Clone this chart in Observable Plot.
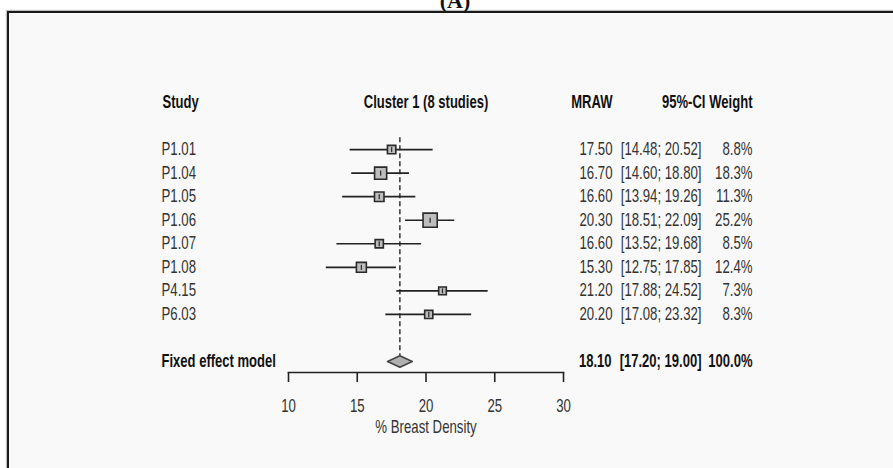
<!DOCTYPE html>
<html>
<head>
<meta charset="utf-8">
<script src="https://cdn.jsdelivr.net/npm/d3@7"></script>
<script src="https://cdn.jsdelivr.net/npm/@observablehq/plot@0.6"></script>
<style>
  html, body { margin: 0; padding: 0; background: #fff; }
  body { width: 893px; height: 468px; overflow: hidden; position: relative; }
  #title { position: absolute; left: 0; top: -12px; width: 910px; text-align: center;
           font: bold 22px "Liberation Serif", serif; color: #111; }
  #panel { position: absolute; left: 7px; top: 11px; width: 920px; height: 480px;
           border-left: 2px solid #1a1a1a; border-top: 2px solid #1a1a1a; background: #f9f9f9;
           box-shadow: -1px -1px 1px rgba(0,0,0,0.25); }
  #chart { position: absolute; left: 0; top: 0; }
</style>
</head>
<body>
<div id="title">(A)</div>
<div id="panel"></div>
<div id="chart"></div>
<script>
// ---- data ----
const studies  = ["P1.01", "P1.04", "P1.05", "P1.06", "P1.07", "P1.08", "P4.15", "P6.03"];
const mraw     = [17.50, 16.70, 16.60, 20.30, 16.60, 15.30, 21.20, 20.20];
const ciLow    = [14.48, 14.60, 13.94, 18.51, 13.52, 12.75, 17.88, 17.08];
const ciHigh   = [20.52, 18.80, 19.26, 22.09, 19.68, 17.85, 24.52, 23.32];
const weights  = [8.8, 18.3, 11.3, 25.2, 8.5, 12.4, 7.3, 8.3];
const fixedLabel = "Fixed effect model";
const fixedEst = 18.10, fixedLow = 17.20, fixedHigh = 19.00, fixedWeight = 100.0;
const xTicks = [10, 15, 20, 25, 30];
const xLabel = "% Breast Density";
const headers = { study: "Study", cluster: "Cluster 1 (8 studies)", est: "MRAW", ci: "95%-CI", weight: "Weight" };

// ---- rows (row index: header 0, studies 2..9, pooled 11) ----
const rows = studies.map((s, i) => ({
  study: s, est: mraw[i], lo: ciLow[i], hi: ciHigh[i], w: weights[i], row: i + 2
}));
const fixedRow = 11;
const fmt2 = d3.format(".2f"), fmt1 = d3.format(".1f");
const ciText = (lo, hi) => `[${fmt2(lo)}; ${fmt2(hi)}]`;

const dHalf = 0.24; // diamond half-height in rows
const diamond = [
  { x: fixedLow, y: fixedRow }, { x: fixedEst, y: fixedRow - dHalf },
  { x: fixedHigh, y: fixedRow }, { x: fixedEst, y: fixedRow + dHalf }, { x: fixedLow, y: fixedRow }
];

const vtick = { draw(ctx) { ctx.moveTo(0, -2.5); ctx.lineTo(0, 2.5); } };

const FS = 17.5;
const txt = "#333", bold = "#111";

const plot = Plot.plot({
  width: 893, height: 468,
  marginLeft: 288, marginRight: 330, marginTop: 102, marginBottom: 96,
  insetBottom: 11,
  style: { background: "transparent", color: "#222", fontFamily: "'Liberation Sans', Arial, sans-serif", fontSize: FS + "px", overflow: "visible" },
  x: { type: "linear", domain: [10, 30] },
  y: { type: "linear", domain: [0, fixedRow], reverse: true, axis: null },
  r: { type: "sqrt", domain: [0, 25.2], range: [0, 8.0] },
  marks: [
    // axis line + ticks
    Plot.frame({ anchor: "bottom", stroke: "#222", strokeWidth: 1.6 }),
    Plot.axisX({ ticks: xTicks, tickSize: 10, tickPadding: 17, tickFormat: d3.format("d"), label: null,
                 fontSize: FS, stroke: "#222", strokeWidth: 1.6, fill: txt }),
    Plot.text([xLabel], { frameAnchor: "bottom", dy: 60, fontSize: FS, fill: txt }),
    // reference dashed line
    Plot.ruleX([fixedEst], { y1: 1.5, y2: fixedRow - dHalf, stroke: "#333", strokeWidth: 1.5, strokeDasharray: "5,3" }),
    // CIs
    Plot.ruleY(rows, { y: "row", x1: "lo", x2: "hi", stroke: "#222", strokeWidth: 1.7 }),
    // weight squares
    Plot.dot(rows, { x: "est", y: "row", r: "w", symbol: "square", fill: "#bdbdbd", stroke: "#2a2a2a", strokeWidth: 1.6 }),
    Plot.dot(rows, { x: "est", y: "row", symbol: vtick, stroke: "#333", strokeWidth: 1.3 }),
    // pooled diamond
    Plot.line(diamond, { x: "x", y: "y", fill: "#b0b0b0", stroke: "#444", strokeWidth: 1.6 }),
    // headers
    Plot.text([headers.study], { y: () => 0, frameAnchor: "left", dx: -126, textAnchor: "start", fontWeight: "bold", fill: bold, fontSize: FS }),
    Plot.text([headers.cluster], { x: () => 20, y: () => 0, fontWeight: "bold", fill: bold, fontSize: FS }),
    Plot.text([headers.est], { y: () => 0, frameAnchor: "right", dx: 49, textAnchor: "end", fontWeight: "bold", fill: bold, fontSize: FS }),
    Plot.text([headers.ci], { y: () => 0, frameAnchor: "right", dx: 142, textAnchor: "end", fontWeight: "bold", fill: bold, fontSize: FS }),
    Plot.text([headers.weight], { y: () => 0, frameAnchor: "right", dx: 189, textAnchor: "end", fontWeight: "bold", fill: bold, fontSize: FS }),
    // study rows
    Plot.text(rows, { y: "row", text: "study", frameAnchor: "left", dx: -127, textAnchor: "start", fill: txt, fontSize: FS }),
    Plot.text(rows, { y: "row", text: d => fmt2(d.est), frameAnchor: "right", dx: 49, textAnchor: "end", fill: txt, fontSize: FS }),
    Plot.text(rows, { y: "row", text: d => ciText(d.lo, d.hi), frameAnchor: "right", dx: 138, textAnchor: "end", fill: txt, fontSize: FS }),
    Plot.text(rows, { y: "row", text: d => fmt1(d.w) + "%", frameAnchor: "right", dx: 189, textAnchor: "end", fill: txt, fontSize: FS }),
    // pooled row
    Plot.text([fixedLabel], { y: () => fixedRow, frameAnchor: "left", dx: -127, textAnchor: "start", fontWeight: "bold", fill: bold, fontSize: FS }),
    Plot.text([fixedEst], { y: () => fixedRow, text: d => fmt2(d), frameAnchor: "right", dx: 48, textAnchor: "end", fontWeight: "bold", fill: bold, fontSize: FS }),
    Plot.text([ciText(fixedLow, fixedHigh)], { y: () => fixedRow, frameAnchor: "right", dx: 138, textAnchor: "end", fontWeight: "bold", fill: bold, fontSize: FS }),
    Plot.text([fixedWeight], { y: () => fixedRow, text: d => fmt1(d) + "%", frameAnchor: "right", dx: 189, textAnchor: "end", fontWeight: "bold", fill: bold, fontSize: FS })
  ]
});

// condense glyphs horizontally (R's narrow Helvetica rendering)
d3.select(plot).selectAll("text").each(function () {
  const isBold = !!this.closest("g[font-weight]");
  const s = isBold ? 0.745 : 0.755;
  const t = this.getAttribute("transform") || "";
  this.setAttribute("transform", `${t} scale(${s},1)`);
});

document.getElementById("chart").appendChild(plot);
</script>
</body>
</html>
